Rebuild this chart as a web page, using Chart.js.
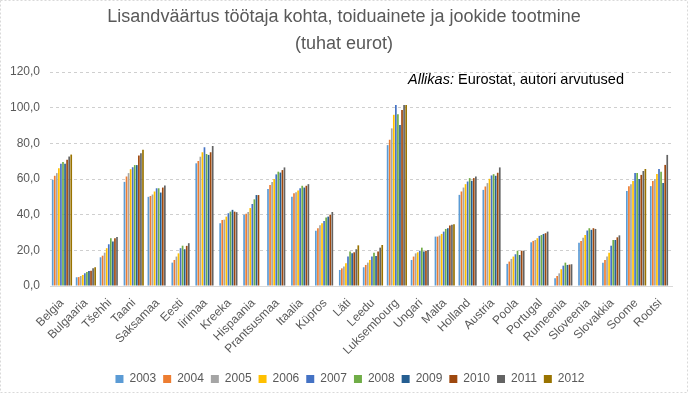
<!DOCTYPE html>
<html lang="et">
<head>
<meta charset="utf-8">
<title>Lisandväärtus töötaja kohta</title>
<script src="https://cdn.jsdelivr.net/npm/chart.js@4"></script>
<style>
    html, body { margin: 0; padding: 0; background: #fff; }
    #wrap { width: 688px; height: 393px; position: relative; }
</style>
</head>
<body>
<div id="wrap"><canvas id="chart" width="688" height="393"></canvas></div>
<script>
// ============================================
// ANDMED
// ============================================

const countries = ['Belgia', 'Bulgaaria', 'Tšehhi', 'Taani', 'Saksamaa', 'Eesti', 'Iirimaa', 'Kreeka',
    'Hispaania', 'Prantsusmaa', 'Itaalia', 'Küpros', 'Läti', 'Leedu', 'Luksembourg', 'Ungari', 'Malta',
    'Holland', 'Austria', 'Poola', 'Portugal', 'Rumeenia', 'Sloveenia', 'Slovakkia', 'Soome', 'Rootsi'];

const years = ['2003', '2004', '2005', '2006', '2007', '2008', '2009', '2010', '2011', '2012'];

const y2003 = [59.5, 4.9, 16.1, 58.4, 50.0, 13.1, 68.8, 35.2, 40.0, 54.4, 50.0, 31.0, 9.0, 10.5, 79.0, 14.6, 27.7, 51.1, 53.9, 12.4, 24.5, 4.3, 24.3, 13.1, 53.3, 56.0];
const y2004 = [61.8, 5.0, 17.0, 61.4, 50.5, 14.6, 70.1, 37.0, 40.5, 56.6, 52.0, 32.4, 9.9, 11.8, 82.0, 16.5, 27.7, 53.0, 55.8, 13.7, 25.3, 5.6, 25.3, 14.6, 56.0, 58.9];
const y2005 = [63.3, 5.6, 18.7, 63.3, 51.3, 16.5, 72.5, 37.2, 41.5, 58.3, 52.6, 34.0, 10.9, 13.1, 88.4, 18.3, 28.3, 55.2, 57.7, 15.2, 25.8, 7.1, 27.1, 16.5, 57.1, 60.0];
const y2006 = [66.0, 6.2, 21.2, 65.5, 53.0, 18.3, 75.0, 38.9, 43.7, 60.0, 53.5, 35.2, 12.7, 14.6, 96.0, 18.9, 29.2, 57.1, 60.1, 16.5, 26.8, 9.4, 28.6, 18.7, 58.9, 62.8];
const y2007 = [68.5, 7.1, 23.4, 66.6, 54.8, 21.2, 77.8, 40.8, 46.0, 62.6, 54.8, 36.5, 16.5, 16.5, 101.5, 19.8, 30.5, 58.6, 62.0, 17.8, 28.1, 11.4, 31.1, 22.6, 63.4, 65.6];
const y2008 = [69.5, 7.9, 26.8, 67.8, 54.8, 22.6, 74.0, 41.7, 48.6, 64.1, 56.2, 38.4, 19.3, 18.7, 96.3, 21.5, 32.0, 60.5, 62.7, 19.8, 28.6, 13.1, 32.4, 25.8, 63.4, 64.0];
const y2009 = [68.5, 8.4, 24.9, 67.8, 52.4, 20.6, 73.5, 42.7, 51.0, 63.6, 55.2, 38.9, 18.3, 16.8, 90.3, 19.3, 32.4, 59.0, 61.8, 17.4, 29.2, 11.8, 31.5, 25.8, 60.0, 57.8];
const y2010 = [70.8, 8.6, 26.8, 73.2, 55.2, 22.5, 75.0, 41.7, 51.0, 65.0, 56.2, 40.0, 18.9, 19.3, 98.7, 19.8, 33.9, 60.5, 63.5, 19.8, 29.6, 12.0, 32.4, 27.3, 62.3, 67.9];
const y2011 = [72.6, 9.9, 27.5, 74.5, 56.3, 24.0, 78.5, 41.4, null, 66.5, 57.1, 41.5, 20.6, 21.5, 101.5, 20.2, 34.3, 61.4, 66.5, 19.8, 30.5, 12.2, 32.0, 28.4, 64.5, 73.5];
const y2012 = [73.7, 10.5, null, 76.4, null, null, null, null, null, null, null, null, 22.8, 23.0, 101.5, null, 34.6, null, null, null, null, null, null, null, 65.6, null];

const yTicks = [0, 20, 40, 60, 80, 100, 120];

const titleLines = ['Lisandväärtus töötaja kohta, toiduainete ja jookide tootmine', '(tuhat eurot)'];

// ============================================
// STIILID
// ============================================

const colors = ['#5B9BD5', '#ED7D31', '#A5A5A5', '#FFC000', '#4472C4', '#70AD47', '#255E91', '#9E480E', '#636363', '#997300'];
const FONT = "'Liberation Sans', Arial, sans-serif";
const TEXT = '#595959';

const series = [y2003, y2004, y2005, y2006, y2007, y2008, y2009, y2010, y2011, y2012];

const datasets = years.map((year, i) => ({
    label: year,
    data: series[i],
    backgroundColor: colors[i],
    borderWidth: 0,
    categoryPercentage: 0.86,
    barPercentage: 0.82
}));

// ============================================
// PLUGIN: allikas + raam
// ============================================

const extras = {
    id: 'extras',
    afterLayout(chart) {
        // pealkiri ja legend veidi paremale, nagu originaalis
        if (chart.titleBlock) chart.titleBlock.left += 16;
        if (chart.legend) {
            chart.legend.left += 28;
            chart.legend.top += 2;
        }
    },
    afterDraw(chart) {
        const ctx = chart.ctx;
        ctx.save();
        ctx.fillStyle = '#000';
        ctx.textBaseline = 'middle';
        ctx.font = 'italic 14.5px ' + FONT;
        const lead = 'Allikas:';
        ctx.fillText(lead, 408, 80);
        const w = ctx.measureText(lead + ' ').width;
        ctx.font = '14.5px ' + FONT;
        ctx.fillText('Eurostat, autori arvutused', 408 + w, 80);

        // kriipsutatud välisraam
        ctx.strokeStyle = '#d9d9d9';
        ctx.setLineDash([2, 2]);
        ctx.lineWidth = 1;
        ctx.strokeRect(0.5, 0.5, chart.width - 1, chart.height - 1);
        ctx.restore();
    }
};

// ============================================
// GRAAFIK
// ============================================

const ctx = document.getElementById('chart').getContext('2d');
const chart = new Chart(ctx, {
    type: 'bar',
    data: { labels: countries, datasets: datasets },
    options: {
        responsive: false,
        animation: false,
        layout: { padding: { left: 0, right: 16, top: 0, bottom: 0 } },
        plugins: {
            title: {
                display: true,
                text: titleLines,
                color: TEXT,
                font: { family: FONT, size: 18, weight: 'normal', lineHeight: 1.5 },
                padding: { top: 4, bottom: 14 }
            },
            legend: {
                position: 'bottom',
                labels: {
                    color: TEXT,
                    font: { family: FONT, size: 12 },
                    boxWidth: 8,
                    boxHeight: 8,
                    padding: 7
                }
            },
            tooltip: { enabled: false }
        },
        scales: {
            x: {
                grid: { display: false },
                border: { color: '#d9d9d9' },
                ticks: {
                    color: TEXT,
                    font: { family: FONT, size: 12 },
                    minRotation: 45,
                    maxRotation: 45,
                    autoSkip: false,
                    padding: 2
                },
                afterFit(scale) {
                    scale.height = 393 - 286 - scale.chart.legend.height;
                }
            },
            y: {
                min: 0,
                max: 120,
                afterBuildTicks(scale) {
                    scale.ticks = yTicks.map(v => ({ value: v }));
                },
                grid: { color: '#cfcfcf', drawTicks: false },
                border: { display: false, dash: [3, 3] },
                ticks: {
                    color: TEXT,
                    font: { family: FONT, size: 12 },
                    padding: 10,
                    callback: v => v.toFixed(1).replace('.', ',')
                },
                afterFit(scale) {
                    scale.width = 50;
                }
            }
        }
    },
    plugins: [extras]
});
</script>
</body>
</html>
